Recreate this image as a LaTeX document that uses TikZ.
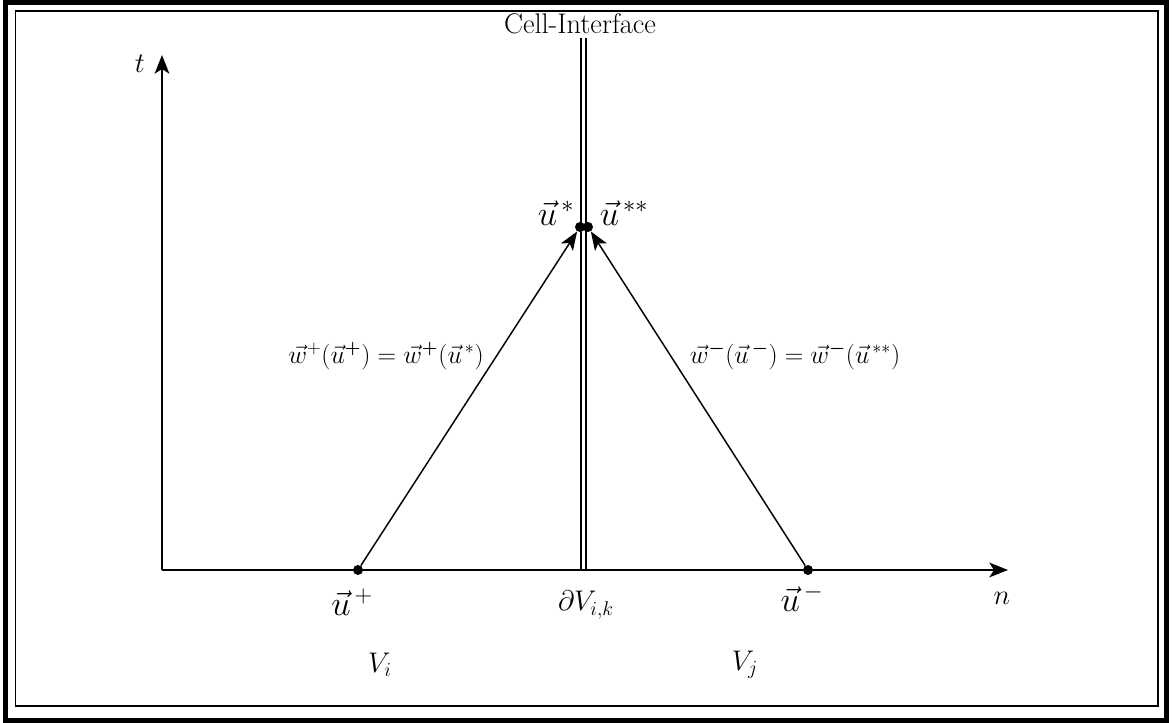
\RequirePackage{fix-cm}
\documentclass[tikz,border=0pt]{standalone}
\usepackage{amsmath,bm}
\usetikzlibrary{arrows.meta}
\begin{document}
\begin{tikzpicture}[x=0.75pt,y=-0.75pt,
  axis/.style={line width=1.5pt,-{Stealth[length=14pt,width=11pt,inset=3.5pt]}},
  arr/.style={line width=1.1pt,-{Stealth[length=14pt,width=10.5pt,inset=3.5pt]}},
  ifc/.style={line width=1.1pt},
  dot/.style={circle,fill=black,inner sep=0pt,minimum size=7.5pt},
  lab/.style={inner sep=0pt,font=\fontsize{21.3}{23}\selectfont},
  big/.style={inner sep=0pt,font=\fontsize{26}{28}\selectfont},
  eq/.style={inner sep=0pt,font=\fontsize{19.3}{21}\selectfont}]
\useasboundingbox (0,0) rectangle (1172,723);
\draw[line width=3.75pt] (5.8,2.5) rectangle (1166.5,720);
\draw[line width=1.4pt] (15.5,11) rectangle (1158,706);
% axes
\coordinate (O) at (162,570);
\coordinate (T) at (162,55);
\coordinate (N) at (1008,570);
\draw[axis] (O) -- (T);
\draw[axis] (O) -- (N);
\node[lab] (tl) at (140,64) {$t$};
\node[lab] (nl) at (1002,598) {$n$};
% interface
\coordinate (i1t) at (581,38); \coordinate (i1b) at (581,570);
\coordinate (i2t) at (586,38); \coordinate (i2b) at (586,570);
\draw[ifc] (i1t) -- (i1b);
\draw[ifc] (i2t) -- (i2b);
\node[lab] (ci) at (580,24) {Cell-Interface};
% dots
\node[dot] (up) at (358,570) {};
\node[dot] (um) at (808,570) {};
\node[dot] (us) at (580,227) {};
\node[dot] (uss) at (588,227) {};
\draw[arr] (up) -- (us);
\draw[arr] (um) -- (uss);
% labels
\node[big] (lus) at (556,213) {$\vec{u}^{\,*}$};
\node[big] (luss) at (624,213) {$\vec{u}^{\,**}$};
\node[big] (lup) at (352,602) {$\vec{u}^{\,+}$};
\node[big] (lum) at (802,598) {$\vec{u}^{\,-}$};
\node[lab] (dv) at (586,605) {$\partial V_{i,k}$};
\node[lab] (vi) at (380,665) {$V_i$};
\node[lab] (vj) at (745,665) {$V_j$};
\node[eq] (e1) at (386,356) {$\vec{w}^{+}(\vec{u}^{\bm{+}}) = \vec{w}^{\bm{+}}(\vec{u}^{\,*})$};
\node[eq] (e2) at (795,356) {$\vec{w}^{\bm{-}}(\vec{u}^{\,\bm{-}}) = \vec{w}^{\bm{-}}(\vec{u}^{\,**})$};
\end{tikzpicture}
\end{document}
